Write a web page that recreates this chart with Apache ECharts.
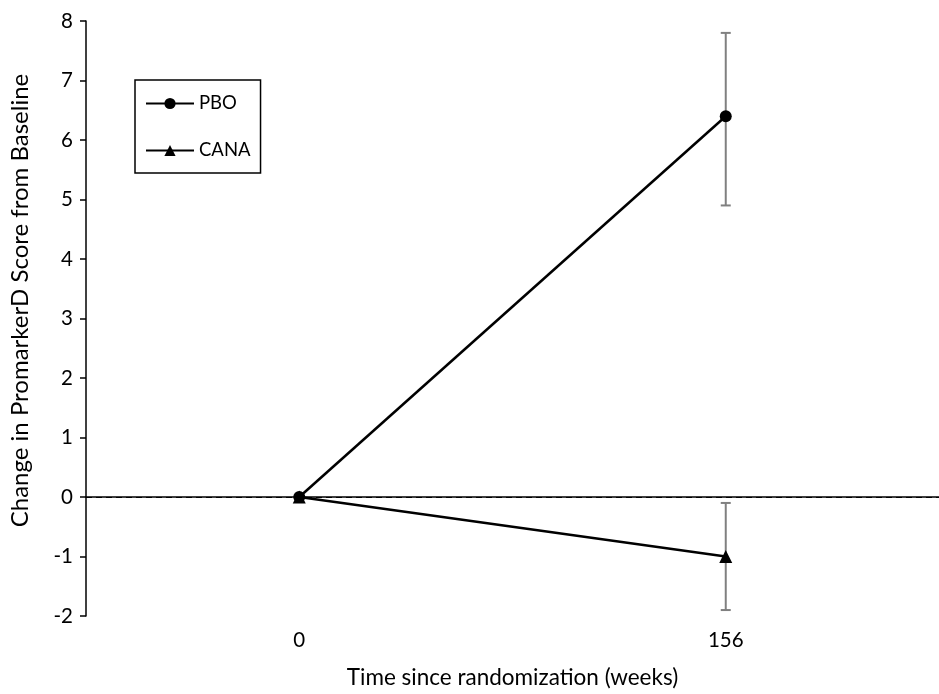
<!DOCTYPE html>
<html><head><meta charset="utf-8">
<script src="https://cdn.jsdelivr.net/npm/echarts@6/dist/echarts.min.js"></script>
<style>html,body{margin:0;padding:0;background:#fff}#c{width:939px;height:694px}</style>
</head><body><div id="c"></div>
<script>
const categories = ['0', '156'];
const pboMean = [0, 6.4];
const pboLow = [null, 4.9];
const pboHigh = [null, 7.8];
const canaMean = [0, -1.0];
const canaLow = [null, -1.9];
const canaHigh = [null, -0.1];
const yTicks = {min: -2, max: 8, interval: 1};

function errData(lo, hi) {
  const out = [];
  for (let i = 0; i < categories.length; i++) {
    if (lo[i] != null) out.push([i, lo[i], hi[i]]);
  }
  return out;
}
function errRender(params, api) {
  const x = api.value(0);
  const lo = api.coord([x, api.value(1)]);
  const hi = api.coord([x, api.value(2)]);
  const w = 5;
  const style = {stroke: '#808080', lineWidth: 2};
  return {type: 'group', children: [
    {type: 'line', shape: {x1: lo[0], y1: lo[1], x2: hi[0], y2: hi[1]}, style: style},
    {type: 'line', shape: {x1: lo[0]-w, y1: lo[1], x2: lo[0]+w, y2: lo[1]}, style: style},
    {type: 'line', shape: {x1: hi[0]-w, y1: hi[1], x2: hi[0]+w, y2: hi[1]}, style: style}
  ]};
}
const font = 'Lato, "Open Sans", sans-serif';
const chart = echarts.init(document.getElementById('c'));
chart.setOption({
  animation: false,
  textStyle: {fontFamily: font},
  grid: {left: 85, top: 21, width: 858, height: 595},
  legend: {
    left: 135, top: 80, orient: 'vertical',
    padding: [14, 10, 13, 10], itemWidth: 48, itemHeight: 14, itemGap: 28,
    borderColor: '#000', borderWidth: 1.5,
    textStyle: {fontSize: 18.5, color: '#000', fontFamily: font},
    data: ['PBO', 'CANA']
  },
  xAxis: {
    type: 'category', data: categories, boundaryGap: true,
    name: 'Time since randomization (weeks)', nameLocation: 'middle', nameGap: 50,
    nameTextStyle: {fontSize: 22.5, color: '#000', fontFamily: font},
    axisLine: {lineStyle: {color: '#000', width: 1.5}},
    axisTick: {alignWithLabel: true, length: 6, lineStyle: {color: '#000', width: 1.5}},
    axisLabel: {fontSize: 20.5, color: '#000', margin: 14, fontFamily: font},
    splitLine: {show: false}
  },
  yAxis: {
    type: 'value', min: yTicks.min, max: yTicks.max, interval: yTicks.interval,
    name: 'Change in PromarkerD Score from Baseline', nameLocation: 'middle', nameGap: 54,
    nameTextStyle: {fontSize: 24, color: '#000', fontFamily: font, padding: [0, 0, 0, 36]},
    axisLine: {show: true, lineStyle: {color: '#000', width: 1.5}},
    axisTick: {show: true, length: 6, lineStyle: {color: '#000', width: 1.5}},
    axisLabel: {fontSize: 20.5, color: '#000', margin: 13, fontFamily: font},
    splitLine: {show: false}
  },
  series: [
    {
      name: 'PBO', type: 'line', data: pboMean, symbol: 'circle', symbolSize: 12,
      lineStyle: {color: '#000', width: 2.5}, itemStyle: {color: '#000'}, z: 5,
      markLine: {
        silent: true, symbol: 'none', label: {show: false},
        lineStyle: {color: '#000', type: [6, 4], width: 1},
        data: [{yAxis: 0}]
      }
    },
    {
      name: 'CANA', type: 'line', data: canaMean, symbol: 'triangle', symbolSize: 13,
      lineStyle: {color: '#000', width: 2.5}, itemStyle: {color: '#000'}, z: 4
    },
    {type: 'custom', renderItem: errRender, data: errData(pboLow, pboHigh), z: 3, silent: true},
    {type: 'custom', renderItem: errRender, data: errData(canaLow, canaHigh), z: 3, silent: true}
  ]
});
</script></body></html>
